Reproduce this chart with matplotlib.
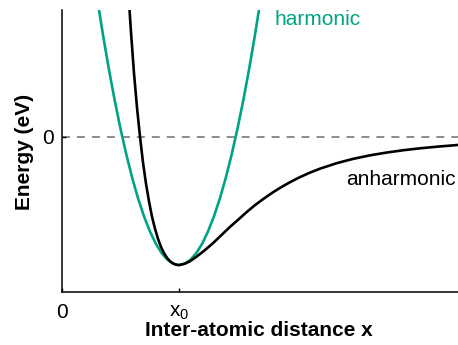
import matplotlib
matplotlib.use("Agg")
from matplotlib import pyplot as plt

plt.rcParams["font.family"] = ["Liberation Sans", "DejaVu Sans"]
plt.rcParams["mathtext.default"] = "regular"

GREEN = "#00a383"

# Distance in units of the equilibrium spacing x0, energy in units of the well depth
harm_x = [0.30, 0.35, 0.40, 0.45, 0.50, 0.55, 0.60, 0.65, 0.70, 0.75, 0.80, 0.85,
          0.90, 0.95, 1.00, 1.05, 1.10, 1.15, 1.20, 1.25, 1.30, 1.35, 1.40, 1.45,
          1.50, 1.55, 1.60, 1.65, 1.70]
harm_y = [1.085, 0.798, 0.532, 0.287, 0.064, -0.138, -0.319, -0.479, -0.617,
          -0.734, -0.830, -0.904, -0.957, -0.989, -1.000, -0.989, -0.957, -0.904,
          -0.830, -0.734, -0.617, -0.479, -0.319, -0.138, 0.064, 0.287, 0.532,
          0.798, 1.085]

anh_x = [0.564, 0.590, 0.615, 0.641, 0.667, 0.692, 0.718, 0.744, 0.769, 0.795,
         0.821, 0.846, 0.872, 0.897, 0.923, 0.949, 0.974, 1.000, 1.051, 1.094,
         1.151, 1.222, 1.293, 1.365, 1.436, 1.507, 1.579, 1.650, 1.721, 1.792,
         1.863, 1.940, 2.020, 2.111, 2.205, 2.348, 2.490, 2.632, 2.775, 2.917,
         3.060, 3.222, 3.385]
anh_y = [1.175, 0.814, 0.501, 0.230, 0.000, -0.197, -0.365, -0.504, -0.621, -0.717,
         -0.796, -0.858, -0.907, -0.943, -0.970, -0.987, -0.997, -1.000, -0.989,
         -0.970, -0.934, -0.883, -0.827, -0.764, -0.702, -0.645, -0.586, -0.532,
         -0.484, -0.439, -0.398, -0.358, -0.320, -0.282, -0.248, -0.205, -0.171,
         -0.144, -0.122, -0.104, -0.089, -0.075, -0.063]

x_ticks = [0, 1]
x_tick_labels = ["0", "x$_0$"]
y_ticks = [0]
y_tick_labels = ["0"]

fig = plt.figure(figsize=(4.58, 3.45), dpi=100)
ax = fig.add_axes([62 / 458, 1 - 292 / 345, 396 / 458, 282 / 345])

ax.axhline(0, color="#6e6e6e", lw=1.1, linestyle=(0, (5.2, 4.6)), zorder=1)
ax.plot(harm_x, harm_y, color=GREEN, lw=1.9, zorder=2)
ax.plot(anh_x, anh_y, color="black", lw=1.9, zorder=3)

ax.set_xlim(0, 3.385)
ax.set_ylim(-1.21, 0.99)

ax.set_xticks(x_ticks)
ax.set_xticklabels(x_tick_labels)
ax.set_yticks(y_ticks)
ax.set_yticklabels(y_tick_labels)
ax.tick_params(direction="in", length=3, width=1, labelsize=15)
ax.tick_params(axis="x", pad=8)
ax.tick_params(axis="y", pad=6)

for side in ("top", "right"):
    ax.spines[side].set_visible(False)
for side in ("left", "bottom"):
    ax.spines[side].set_linewidth(1.1)

ax.text(1.82, 0.875, "harmonic", color=GREEN, fontsize=15, ha="left",
        va="baseline")
ax.text(2.43, -0.375, "anharmonic", color="black", fontsize=15, ha="left",
        va="baseline")

fig.text(24 / 458, 1 - 151.5 / 345, "Energy (eV)", rotation=90, fontsize=15,
         fontweight="bold", ha="center", va="center")
fig.text(258.5 / 458, 1 - 336.5 / 345, "Inter-atomic distance x", fontsize=15,
         fontweight="bold", ha="center", va="baseline")

fig.savefig("out.png", dpi=100)
